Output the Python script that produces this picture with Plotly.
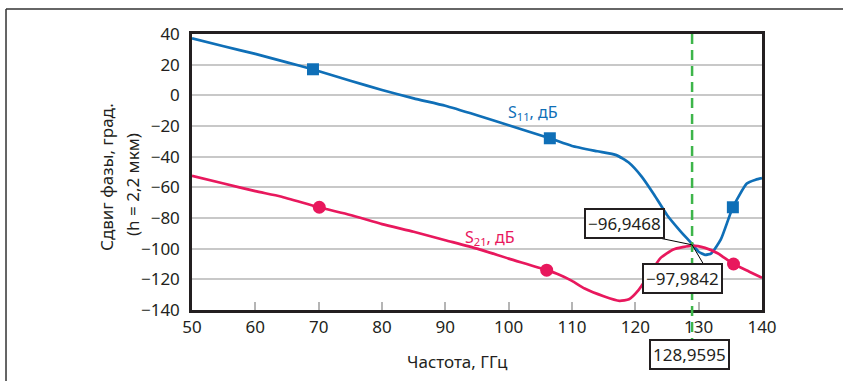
import plotly.graph_objects as go

# S11 curve
s11_x = [50, 55, 60, 65, 69, 75, 80, 85, 90, 95, 100, 106.5, 110, 114, 117, 119, 121, 123, 125, 127, 128.96, 130, 131, 132, 133.5, 135.4, 137.6, 139, 140]
s11_y = [37.2, 32.0, 27.0, 21.5, 17.0, 9.5, 3.5, -2.0, -6.8, -13.0, -19.5, -28.0, -33.0, -36.5, -39.0, -44.0, -53.0, -65.0, -78.0, -88.0, -96.9468, -102.0, -104.0, -103.0, -94.0, -73.0, -57.5, -55.0, -54.0]
s11_mx = [69.1, 106.5, 135.4]
s11_my = [17.0, -28.0, -73.0]

# S21 curve
s21_x = [50, 55, 60, 64, 70, 75, 80, 85, 90, 95, 100, 106, 108, 110, 112, 115, 117.5, 119, 120.5, 122, 124, 126, 128.96, 131, 133, 135.5, 138, 140]
s21_y = [-52.5, -57.5, -62.5, -66.0, -73.0, -78.0, -84.0, -89.0, -94.5, -100.0, -106.5, -114.0, -117.0, -121.0, -126.0, -131.0, -134.0, -133.0, -127.0, -118.0, -106.0, -100.5, -97.9842, -99.5, -103.0, -110.0, -115.0, -119.0]
s21_mx = [70.1, 106.0, 135.5]
s21_my = [-73.0, -114.0, -110.0]

marker_f = 128.9595
val_a = "−96,9468"
val_b = "−97,9842"
val_f = "128,9595"

xticks = [50, 60, 70, 80, 90, 100, 110, 120, 130, 140]
yticks = [40, 20, 0, -20, -40, -60, -80, -100, -120, -140]
ytick_text = ["40", "20", "0", "−20", "−40", "−60", "−80", "−100", "−120", "−140"]

BLUE = "#0f6fb7"
RED = "#e8185d"
GREEN = "#3db54a"
FONT = "Noto Sans"
TXT = "#231f20"

fig = go.Figure()
fig.add_trace(go.Scatter(x=s11_x, y=s11_y, mode="lines",
                         line=dict(color=BLUE, width=2.7, shape="spline", smoothing=0.5),
                         hoverinfo="skip"))
fig.add_trace(go.Scatter(x=s21_x, y=s21_y, mode="lines",
                         line=dict(color=RED, width=2.7, shape="spline", smoothing=0.5),
                         hoverinfo="skip"))
fig.add_trace(go.Scatter(x=s11_mx, y=s11_my, mode="markers",
                         marker=dict(symbol="square", size=12, color=BLUE)))
fig.add_trace(go.Scatter(x=s21_mx, y=s21_my, mode="markers",
                         marker=dict(symbol="circle", size=13, color=RED)))

# green dashed marker line
fig.add_shape(type="line", xref="x", yref="paper", x0=marker_f, x1=marker_f, y0=1, y1=-0.116,
              line=dict(color=GREEN, width=2.5, dash="10px,6px"))
# leader lines
fig.add_shape(type="line", xref="x", yref="y", x0=122.3, y0=-91.8, x1=marker_f, y1=-97.5,
              line=dict(color="black", width=1))
fig.add_shape(type="line", xref="x", yref="y", x0=marker_f, y0=-97.5, x1=130.85, y1=-110.7,
              line=dict(color="black", width=1))

# outer frame (top and left)
fig.add_shape(type="line", xref="paper", yref="paper", x0=-0.3263, x1=1.2, y0=1.0906, y1=1.0906,
              line=dict(color="#333333", width=1.5))
fig.add_shape(type="line", xref="paper", yref="paper", x0=-0.3263, x1=-0.3263, y0=1.0906, y1=-0.3,
              line=dict(color="#333333", width=1.5))

box = dict(bordercolor=TXT, borderwidth=2, borderpad=2, bgcolor="white",
           font=dict(family=FONT, size=17, color=TXT), showarrow=False,
           xanchor="center", yanchor="middle")
fig.add_annotation(x=118.3, y=-83.3, text=val_a, **box)
fig.add_annotation(x=127.45, y=-119.5, text=val_b, **box)
fig.add_annotation(x=128.55, yref="paper", y=(310 - 354.5) / 276, text=val_f, **box)

fig.add_annotation(x=103.8, y=-11.5, text="S<sub>11</sub>, дБ", showarrow=False,
                   font=dict(family=FONT, size=16, color=BLUE))
fig.add_annotation(x=97.1, y=-92.4, text="S<sub>21</sub>, дБ", showarrow=False,
                   font=dict(family=FONT, size=16, color=RED))

# axis titles
fig.add_annotation(xref="paper", yref="paper", x=(457 - 192) / 570, y=(310 - 361) / 276,
                   xanchor="center", yanchor="middle",
                   text="Частота, ГГц", showarrow=False,
                   font=dict(family=FONT, size=17, color=TXT))
fig.add_annotation(xref="paper", yref="paper", x=(106 - 192) / 570, y=(310 - 177) / 276,
                   xanchor="center", yanchor="middle",
                   text="Сдвиг фазы, град.", showarrow=False, textangle=-90,
                   font=dict(family=FONT, size=17, color=TXT))
fig.add_annotation(xref="paper", yref="paper", x=(132 - 192) / 570, y=(310 - 185) / 276,
                   xanchor="center", yanchor="middle",
                   text="(h = 2,2 мкм)", showarrow=False, textangle=-90,
                   font=dict(family=FONT, size=17, color=TXT))

fig.update_layout(
    width=843, height=381,
    margin=dict(l=192, r=81, t=34, b=71),
    paper_bgcolor="white", plot_bgcolor="white",
    showlegend=False,
    font=dict(family=FONT, size=17, color=TXT),
)
fig.update_xaxes(range=[50, 140], tickvals=xticks, ticks="inside", ticklen=8, tickcolor="#b5b5b5",
                 tickwidth=1.5, showgrid=False, zeroline=False, showline=True, mirror=True,
                 linecolor=TXT, linewidth=2.5, tickfont=dict(family=FONT, size=17, color=TXT))
fig.update_yaxes(range=[-140, 40], tickvals=yticks, ticktext=ytick_text, ticks="", showgrid=True,
                 gridcolor="#c8c8c8", gridwidth=1.5, zeroline=False, showline=True, mirror=True,
                 linecolor=TXT, linewidth=2.5, ticklabelstandoff=6,
                 tickfont=dict(family=FONT, size=17, color=TXT))

fig.write_html("out.html")
